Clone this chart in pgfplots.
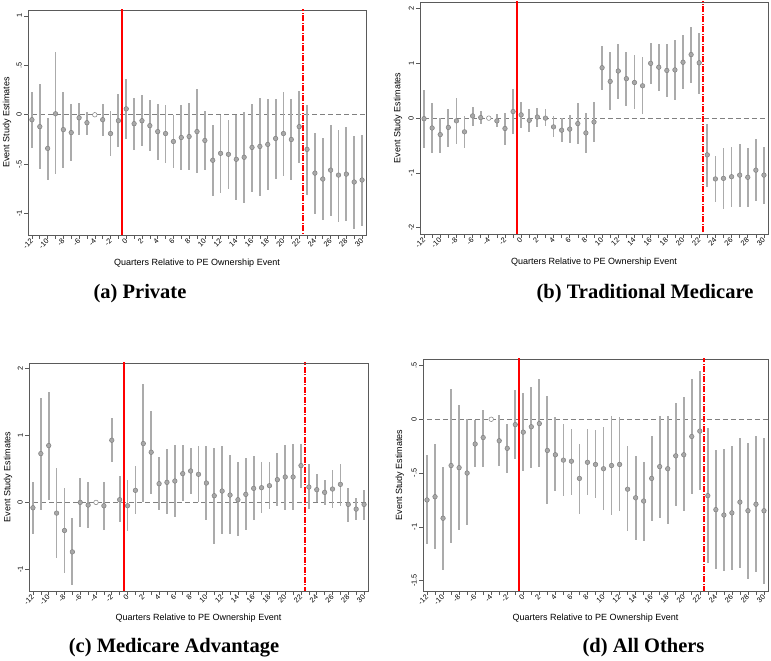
\documentclass[border=0pt]{standalone}
\usepackage{fontspec}
\setmainfont{Liberation Serif}
\setsansfont{Liberation Sans}
\usepackage{pgfplots}
\usepackage{pgfplotstable}
\pgfplotsset{compat=1.18}
\definecolor{ptfill}{HTML}{A8A8A8}
\definecolor{ptdraw}{HTML}{808080}
\definecolor{cicol}{HTML}{ABABAB}
\definecolor{zcol}{HTML}{808080}
\definecolor{axcol}{HTML}{5A5A5A}

\pgfplotstableread{
q b lo hi
-12 -0.05 -0.34 0.23
-11 -0.12 -0.55 0.31
-10 -0.34 -0.66 -0.03
-9 0.01 -0.60 0.63
-8 -0.15 -0.54 0.23
-7 -0.18 -0.47 0.11
-6 -0.03 -0.20 0.12
-5 -0.08 -0.20 0.03
-3 -0.05 -0.21 0.11
-2 -0.19 -0.42 0.04
-1 -0.06 -0.33 0.21
0 0.06 -0.24 0.36
1 -0.09 -0.36 0.17
2 -0.06 -0.32 0.20
3 -0.11 -0.37 0.15
4 -0.17 -0.46 0.11
5 -0.19 -0.49 0.10
6 -0.27 -0.54 0.00
7 -0.23 -0.56 0.10
8 -0.22 -0.56 0.12
9 -0.17 -0.59 0.26
10 -0.26 -0.56 0.04
11 -0.46 -0.82 -0.10
12 -0.39 -0.79 0.00
13 -0.40 -0.75 -0.05
14 -0.45 -0.86 0.00
15 -0.43 -0.89 0.03
16 -0.33 -0.78 0.11
17 -0.32 -0.82 0.17
18 -0.30 -0.76 0.16
19 -0.24 -0.65 0.16
20 -0.19 -0.62 0.23
21 -0.25 -0.66 0.16
22 -0.12 -0.49 0.24
23 -0.35 -0.81 0.10
24 -0.59 -1.00 -0.18
25 -0.65 -1.06 -0.23
26 -0.56 -1.02 -0.10
27 -0.61 -1.08 -0.15
28 -0.60 -1.07 -0.12
29 -0.68 -1.16 -0.21
30 -0.66 -1.12 -0.20
}\dataA

\pgfplotstableread{
q b lo hi
-12 -0.01 -0.54 0.52
-11 -0.18 -0.64 0.27
-10 -0.30 -0.64 0.01
-9 -0.17 -0.52 0.16
-8 -0.05 -0.47 0.36
-7 -0.25 -0.55 0.03
-6 0.04 -0.14 0.21
-5 0.01 -0.11 0.13
-3 -0.05 -0.17 0.07
-2 -0.19 -0.49 0.10
-1 0.12 -0.29 0.53
0 0.06 -0.18 0.29
1 -0.04 -0.25 0.17
2 0.02 -0.16 0.19
3 0.00 -0.15 0.16
4 -0.16 -0.34 0.03
5 -0.22 -0.44 0.01
6 -0.20 -0.45 0.05
7 -0.10 -0.47 0.27
8 -0.27 -0.64 0.09
9 -0.07 -0.43 0.30
10 0.92 0.52 1.32
11 0.67 0.15 1.20
12 0.86 0.35 1.36
13 0.72 0.23 1.21
14 0.65 0.16 1.15
15 0.59 0.07 1.11
16 1.00 0.62 1.37
17 0.93 0.50 1.36
18 0.87 0.38 1.35
19 0.88 0.33 1.42
20 1.02 0.53 1.51
21 1.16 0.65 1.67
22 1.01 0.44 1.56
23 -0.67 -1.26 -0.10
24 -1.11 -1.54 -0.69
25 -1.10 -1.66 -0.55
26 -1.07 -1.63 -0.52
27 -1.04 -1.63 -0.47
28 -1.08 -1.63 -0.55
29 -0.95 -1.51 -0.39
30 -1.04 -1.56 -0.53
}\dataB

\pgfplotstableread{
q b lo hi
-12 -0.08 -0.48 0.31
-11 0.73 -0.12 1.56
-10 0.85 0.03 1.65
-9 -0.16 -0.83 0.52
-8 -0.42 -1.05 0.21
-7 -0.74 -1.24 -0.24
-6 0.00 -0.37 0.37
-5 -0.04 -0.39 0.31
-3 -0.05 -0.41 0.30
-2 0.93 0.60 1.26
-1 0.04 -0.29 0.39
0 -0.05 -0.43 0.34
1 0.18 -0.17 0.55
2 0.88 0.00 1.77
3 0.75 0.12 1.36
4 0.28 -0.12 0.68
5 0.30 -0.18 0.80
6 0.32 -0.22 0.86
7 0.43 0.02 0.86
8 0.47 0.12 0.81
9 0.42 0.00 0.85
10 0.29 -0.27 0.85
11 0.10 -0.62 0.82
12 0.17 -0.48 0.84
13 0.11 -0.48 0.71
14 0.04 -0.50 0.60
15 0.12 -0.41 0.66
16 0.21 -0.27 0.69
17 0.22 -0.16 0.60
18 0.25 -0.10 0.60
19 0.34 -0.05 0.74
20 0.38 -0.11 0.86
21 0.38 -0.12 0.87
22 0.55 0.22 0.87
23 0.23 -0.10 0.57
24 0.19 0.00 0.42
25 0.15 -0.04 0.34
26 0.20 -0.09 0.48
27 0.27 -0.05 0.58
28 -0.03 -0.29 0.22
29 -0.10 -0.26 0.06
30 -0.03 -0.27 0.18
}\dataC

\pgfplotstableread{
q b lo hi
-12 -0.75 -1.16 -0.33
-11 -0.72 -1.21 -0.23
-10 -0.92 -1.40 -0.44
-9 -0.43 -1.15 0.28
-8 -0.45 -1.03 0.13
-7 -0.50 -0.98 0.00
-6 -0.23 -0.44 -0.01
-5 -0.17 -0.44 0.09
-3 -0.20 -0.43 0.04
-2 -0.27 -0.50 -0.04
-1 -0.05 -0.37 0.27
0 -0.12 -0.48 0.24
1 -0.07 -0.45 0.30
2 -0.04 -0.44 0.37
3 -0.29 -0.79 0.22
4 -0.33 -0.67 0.02
5 -0.38 -0.71 -0.04
6 -0.39 -0.70 -0.09
7 -0.55 -0.88 -0.23
8 -0.40 -0.70 -0.09
9 -0.42 -0.73 -0.10
10 -0.46 -0.84 -0.07
11 -0.43 -0.89 0.03
12 -0.42 -0.85 0.02
13 -0.65 -1.04 -0.25
14 -0.73 -1.12 -0.34
15 -0.76 -1.13 -0.40
16 -0.55 -0.95 -0.16
17 -0.44 -0.92 0.03
18 -0.46 -0.97 0.03
19 -0.34 -0.81 0.15
20 -0.33 -0.85 0.21
21 -0.16 -0.69 0.37
22 -0.11 -0.66 0.45
23 -0.71 -1.34 -0.08
24 -0.84 -1.39 -0.29
25 -0.89 -1.41 -0.28
26 -0.87 -1.40 -0.25
27 -0.77 -1.38 -0.17
28 -0.85 -1.48 -0.22
29 -0.79 -1.42 -0.16
30 -0.85 -1.53 -0.17
}\dataD

\newcommand{\ticksz}{\sffamily\fontsize{7.3}{8.5}\selectfont}
\newcommand{\labsz}{\sffamily\fontsize{9}{11}\selectfont}

\pgfplotsset{
  ev/.style={
    scale only axis,
    xmin=-12.5, xmax=30.5,
    xtick={-12,-10,-8,-6,-4,-2,0,2,4,6,8,10,12,14,16,18,20,22,24,26,28,30},
    xticklabels={-12,-10,-8,-6,-4,-2,0,2,4,6,8,10,12,14,16,18,20,22,24,26,28,30},
    minor xtick={-11,-9,-7,-5,-3,-1,1,3,5,7,9,11,13,15,17,19,21,23,25,27,29},
    tick align=outside,
    xtick pos=bottom, ytick pos=left,
    major tick length=4pt, minor tick length=4pt,
    axis line style={draw=axcol, line width=0.8pt},
    every tick/.style={draw=axcol, line width=0.6pt},
    every minor tick/.style={draw=axcol, line width=0.6pt},
    xticklabel style={font=\ticksz, yshift=-1pt, rotate=45, anchor=east, inner sep=0pt},
    yticklabel style={font=\ticksz, rotate=90, anchor=south, inner sep=2pt},
    xlabel={Quarters Relative to PE Ownership Event},
    ylabel={Event Study Estimates},
    label style={font=\labsz},
    clip=true,
  },
  cis/.style={draw=none, mark=none, forget plot,
    error bars/.cd, y dir=both, y explicit, error mark=none,
    error bar style={draw=cicol, line width=1.8pt, line cap=butt, solid}},
  pts/.style={only marks, mark=*, mark size=2.3pt,
    mark options={fill=ptfill, draw=ptdraw, line width=0.5pt}},
  hol/.style={only marks, mark=*, mark size=2.3pt,
    mark options={fill=white, draw=ptdraw, line width=0.5pt}},
  zl/.style={draw=zcol, line width=0.9pt, dash pattern=on 5pt off 3pt},
  rsol/.style={draw=red, color=red, line width=2pt, mark=none},
  rdash/.style={draw=red, color=red, line width=2pt, mark=none, dash pattern=on 6pt off 1.5pt on 1pt off 1.5pt},
}

\begin{document}
\begin{tikzpicture}[x=1pt,y=1pt]
\useasboundingbox (0,0) rectangle (771,661);

% (a)
\begin{axis}[ev, at={(28pt,426pt)}, anchor=south west, width=338pt, height=225pt,
  ymin=-1.216, ymax=1.06,
  ytick={-1,-0.5,0,0.5,1}, yticklabels={-1,-.5,0,.5,1},
  xlabel style={at={(axis description cs:0.5,-0.124)}, anchor=center},
  ylabel style={at={(axis description cs:-0.062,0.5)}, anchor=center}]
\addplot[zl] coordinates {(-13,0) (31,0)};
\addplot[cis] table[x=q, y=b, y error plus expr=\thisrow{hi}-\thisrow{b}, y error minus expr=\thisrow{b}-\thisrow{lo}] {\dataA};
\addplot[pts] table[x=q, y=b] {\dataA};
\addplot[hol] coordinates {(-4,0)};
\addplot[rsol] coordinates {(-0.5,-3) (-0.5,3)};
\addplot[rdash] coordinates {(22.5,-3) (22.5,3)};
\end{axis}

% (b)
\begin{axis}[ev, at={(420pt,427pt)}, anchor=south west, width=348pt, height=232pt,
  ymin=-2.115, ymax=2.12,
  ytick={-2,-1,0,1,2}, yticklabels={-2,-1,0,1,2},
  xlabel style={at={(axis description cs:0.5,-0.121)}, anchor=center},
  ylabel style={at={(axis description cs:-0.063,0.5)}, anchor=center}]
\addplot[zl] coordinates {(-13,0) (31,0)};
\addplot[cis] table[x=q, y=b, y error plus expr=\thisrow{hi}-\thisrow{b}, y error minus expr=\thisrow{b}-\thisrow{lo}] {\dataB};
\addplot[pts] table[x=q, y=b] {\dataB};
\addplot[hol] coordinates {(-4,0)};
\addplot[rsol] coordinates {(-0.5,-3) (-0.5,3)};
\addplot[rdash] coordinates {(22.5,-3) (22.5,3)};
\end{axis}

% (c)
\begin{axis}[ev, at={(29pt,70pt)}, anchor=south west, width=339pt, height=228pt,
  ymin=-1.325, ymax=2.085,
  ytick={-1,0,1,2}, yticklabels={-1,0,1,2},
  xlabel style={at={(axis description cs:0.5,-0.118)}, anchor=center},
  ylabel style={at={(axis description cs:-0.062,0.5)}, anchor=center}]
\addplot[zl] coordinates {(-13,0) (31,0)};
\addplot[cis] table[x=q, y=b, y error plus expr=\thisrow{hi}-\thisrow{b}, y error minus expr=\thisrow{b}-\thisrow{lo}] {\dataC};
\addplot[pts] table[x=q, y=b] {\dataC};
\addplot[hol] coordinates {(-4,0)};
\addplot[rsol] coordinates {(-0.5,-3) (-0.5,3)};
\addplot[rdash] coordinates {(22.5,-3) (22.5,3)};
\end{axis}

% (d)
\begin{axis}[ev, at={(423pt,70pt)}, anchor=south west, width=345pt, height=232pt,
  ymin=-1.596, ymax=0.56,
  ytick={-1.5,-1,-0.5,0,0.5}, yticklabels={-1.5,-1,-.5,0,.5},
  xlabel style={at={(axis description cs:0.5,-0.116)}, anchor=center},
  ylabel style={at={(axis description cs:-0.067,0.5)}, anchor=center}]
\addplot[zl] coordinates {(-13,0) (31,0)};
\addplot[cis] table[x=q, y=b, y error plus expr=\thisrow{hi}-\thisrow{b}, y error minus expr=\thisrow{b}-\thisrow{lo}] {\dataD};
\addplot[pts] table[x=q, y=b] {\dataD};
\addplot[hol] coordinates {(-4,0)};
\addplot[rsol] coordinates {(-0.5,-3) (-0.5,3)};
\addplot[rdash] coordinates {(22.5,-3) (22.5,3)};
\end{axis}

\node[font=\bfseries\fontsize{20.5}{24}\selectfont, anchor=base] at (140,362) {(a) Private};
\node[font=\bfseries\fontsize{20.5}{24}\selectfont, anchor=base] at (645,362) {(b) Traditional Medicare};
\node[font=\bfseries\fontsize{20.5}{24}\selectfont, anchor=base] at (174,8) {(c) Medicare Advantage};
\node[font=\bfseries\fontsize{20.5}{24}\selectfont, anchor=base] at (643.5,8) {(d) All Others};
\end{tikzpicture}
\end{document}
